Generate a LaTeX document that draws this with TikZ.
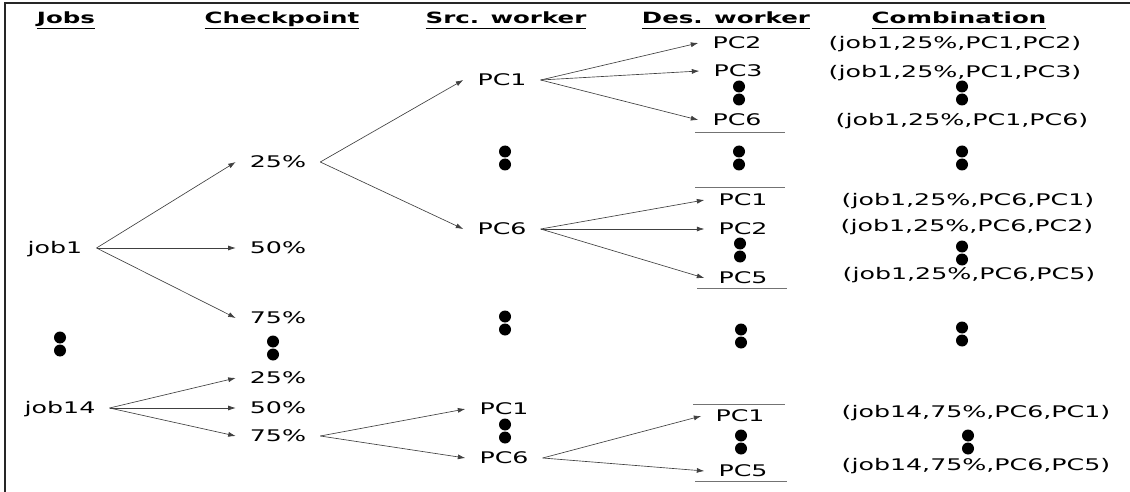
\documentclass[tikz,border=0pt]{standalone}
\usepackage{fontspec}
\setmainfont[FakeStretch=1.58]{DejaVu Sans}
\usetikzlibrary{arrows.meta}

\tikzset{
  lbl/.style={inner xsep=14pt, inner ysep=0pt, text height=12pt, text depth=1pt,
    font=\fontsize{16}{19}\selectfont},
  hdr/.style={inner sep=0pt, anchor=base, font=\fontsize{15.5}{18}\selectfont\bfseries},
  link/.style={draw=black!75, line width=0.65pt},
  sepline/.style={draw=black!55, line width=0.6pt},
  twodots/.pic={\fill (0,-6.5) circle (6); \fill (0,6.5) circle (6);}
}
\newcommand\hd[1]{\underline{#1\vphantom{p}}}

\begin{document}
\begin{tikzpicture}[x=1pt,y=-1pt,->,>={Latex[length=7.5pt,width=5pt]}]
  \useasboundingbox (0,0) rectangle (1130,492);
  \draw[-,line width=1.5pt,black!85] (5,492) -- (5,3) -- (1130,3);

  % column heads
  \node[hdr] (hjobs) at (66,24)  {\hd{Jobs}};
  \node[hdr] (hchk)  at (282,24) {\hd{Checkpoint}};
  \node[hdr] (hsrc)  at (506,24) {\hd{Src. worker}};
  \node[hdr] (hdes)  at (726,24) {\hd{Des. worker}};
  \node[hdr] (hcomb) at (959,24) {\hd{Combination}};

  % jobs
  \node[lbl] (j1)  at (55,248) {job1};
  \node[lbl] (j14) at (60,408) {job14};

  % checkpoints
  \node[lbl] (a25) at (278,162) {25\%};
  \node[lbl] (a50) at (278,248) {50\%};
  \node[lbl] (a75) at (278,318) {75\%};
  \node[lbl] (b25) at (278,378) {25\%};
  \node[lbl] (b50) at (278,408) {50\%};
  \node[lbl] (b75) at (278,436) {75\%};

  % source workers
  \node[lbl] (s1) at (502,80)  {PC1};
  \node[lbl] (s6) at (502,229) {PC6};
  \node[lbl] (t1) at (504,409) {PC1};
  \node[lbl] (t6) at (504,458) {PC6};

  % destination workers
  \node[lbl] (d2) at (737,43)  {PC2};
  \node[lbl] (d3) at (738,71)  {PC3};
  \node[lbl] (d6) at (737,120) {PC6};
  \node[lbl] (e1) at (743,200) {PC1};
  \node[lbl] (e2) at (743,229) {PC2};
  \node[lbl] (e5) at (743,278) {PC5};
  \node[lbl] (f1) at (740,416) {PC1};
  \node[lbl] (f5) at (743,471) {PC5};

  % combinations
  \node[lbl] (c1) at (955,43)  {(job1,25\%,PC1,PC2)};
  \node[lbl] (c2) at (955,72)  {(job1,25\%,PC1,PC3)};
  \node[lbl] (c3) at (962,120) {(job1,25\%,PC1,PC6)};
  \node[lbl] (c4) at (968,200) {(job1,25\%,PC6,PC1)};
  \node[lbl] (c5) at (967,226) {(job1,25\%,PC6,PC2)};
  \node[lbl] (c6) at (969,274) {(job1,25\%,PC6,PC5)};
  \node[lbl] (c7) at (976,412) {(job14,75\%,PC6,PC1)};
  \node[lbl] (c8) at (976,465) {(job14,75\%,PC6,PC5)};

  % elided rows
  \foreach \x/\y in {60/344, 273/348, 505/158, 505/323, 505/431,
                     739/93, 739/158, 740/250, 741/336, 741/442,
                     962/93, 962/158, 962/253, 962/334, 968/442}
    \pic at (\x,\y) {twodots};

  % group separators
  \draw[-,sepline] (695,132) -- (785,132);
  \draw[-,sepline] (695,187) -- (785,187);
  \draw[-,sepline] (697,288) -- (787,288);
  \draw[-,sepline] (693,404) -- (785,404);
  \draw[-,sepline] (695,481) -- (787,481);

  % branches
  \foreach \t in {a25,a50,a75} \draw[link] (j1.east) -- (\t.west);
  \foreach \t in {s1,s6} \draw[link] (a25.east) -- (\t.west);
  \foreach \t in {d2,d3,d6} \draw[link] (s1.east) -- (\t.west);
  \foreach \t in {e1,e2,e5} \draw[link] (s6.east) -- (\t.west);
  \foreach \t in {b25,b50,b75} \draw[link] (j14.east) -- (\t.west);
  \foreach \t in {t1,t6} \draw[link] (b75.east) -- (\t.west);
  \foreach \t in {f1,f5} \draw[link] (t6.east) -- (\t.west);
\end{tikzpicture}
\end{document}
